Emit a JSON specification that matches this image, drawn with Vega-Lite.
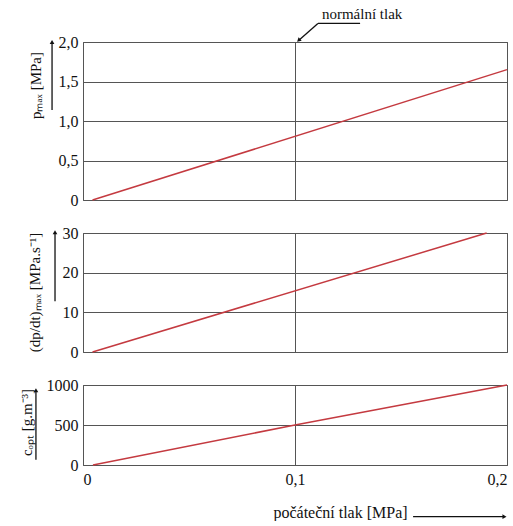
{
  "$schema": "https://vega.github.io/schema/vega-lite/v6.json",
  "padding": {"left": 18, "top": 6, "right": 0, "bottom": 0},
  "background": "white",
  "spacing": 33,
  "bounds": "flush",
  "config": {
    "font": "Liberation Serif",
    "view": {"stroke": "#555555", "strokeWidth": 1},
    "text": {"font": "Liberation Serif"},
    "axis": {
      "gridColor": "#555555", "gridOpacity": 1, "gridWidth": 1,
      "domain": false, "ticks": false, "labelOverlap": false,
      "labelFont": "Liberation Serif", "labelFontSize": 16, "labelColor": "#111111",
      "titleFont": "Liberation Serif", "titleFontSize": 15, "titleFontWeight": "normal", "titleColor": "#111111"
    }
  },
  "vconcat": [
    {
      "width": 424, "height": 158,
      "encoding": {
        "x": {"field": "p", "type": "quantitative", "scale": {"domain": [0, 0.2]},
              "axis": {"values": [0, 0.1, 0.2], "labels": false, "grid": true, "title": null}},
        "y": {"field": "v", "type": "quantitative", "scale": {"domain": [0, 2]},
              "axis": {"values": [0, 0.5, 1, 1.5, 2], "grid": true, "labelPadding": 5,
                       "labelExpr": "datum.value == 0 ? '0' : replace(format(datum.value, '.1f'), '.', ',')",
                       "title": "pₘₐₓ [MPa]", "titleX": -48, "titleY": 43, "titleBaseline": "middle", "titleAlign": "center"}}
      },
      "layer": [
        {
          "data": {"values": [{"p": 0.0045, "v": 0}, {"p": 0.2, "v": 1.65}]},
          "mark": {"type": "line", "color": "#c43a40", "strokeWidth": 1.5}
        },
        {
          "data": {"values": [{"p": -0.0146, "v": 1.14, "v2": 1.99}]},
          "mark": {"type": "rule", "color": "#111111", "strokeWidth": 1.3},
          "encoding": {"y2": {"field": "v2"}}
        },
        {
          "data": {"values": [{"p": -0.0146, "v": 2.0}]},
          "mark": {"type": "point", "shape": "triangle-up", "filled": true, "color": "#111111", "size": 22, "opacity": 1}
        },
        {
          "data": {"values": [{"p": 0.1127, "v": 2.285, "label": "normální tlak"}]},
          "mark": {"type": "text", "align": "left", "baseline": "alphabetic", "fontSize": 15, "color": "#111111"},
          "encoding": {"text": {"field": "label"}}
        },
        {
          "data": {"values": [{"p": 0.1108, "p2": 0.1307, "v": 2.235}]},
          "mark": {"type": "rule", "color": "#111111", "strokeWidth": 1.3},
          "encoding": {"x2": {"field": "p2"}}
        },
        {
          "data": {"values": [{"p": 0.1108, "p2": 0.1017, "v": 2.235, "v2": 2.02}]},
          "mark": {"type": "rule", "color": "#111111", "strokeWidth": 1.3},
          "encoding": {"x2": {"field": "p2"}, "y2": {"field": "v2"}}
        },
        {
          "data": {"values": [{"p": 0.1017, "v": 2.02}]},
          "mark": {"type": "point", "shape": "triangle-up", "filled": true, "color": "#111111", "size": 22, "opacity": 1, "angle": 229}
        }
      ]
    },
    {
      "width": 424, "height": 119,
      "encoding": {
        "x": {"field": "p", "type": "quantitative", "scale": {"domain": [0, 0.2]},
              "axis": {"values": [0, 0.1, 0.2], "labels": false, "grid": true, "title": null}},
        "y": {"field": "v", "type": "quantitative", "scale": {"domain": [0, 30]},
              "axis": {"values": [0, 10, 20, 30], "grid": true, "labelPadding": 5, "format": "d",
                       "title": "(dp/dt)ₘₐₓ [MPa.s⁻¹]", "titleX": -49, "titleY": 59, "titleBaseline": "middle", "titleAlign": "center"}}
      },
      "layer": [
        {
          "data": {"values": [{"p": 0.0045, "v": 0}, {"p": 0.1904, "v": 30}]},
          "mark": {"type": "line", "color": "#c43a40", "strokeWidth": 1.5}
        },
        {
          "data": {"values": [{"p": -0.0132, "v": 12.8, "v2": 30.0}]},
          "mark": {"type": "rule", "color": "#111111", "strokeWidth": 1.3},
          "encoding": {"y2": {"field": "v2"}}
        },
        {
          "data": {"values": [{"p": -0.0132, "v": 30.2}]},
          "mark": {"type": "point", "shape": "triangle-up", "filled": true, "color": "#111111", "size": 22, "opacity": 1}
        }
      ]
    },
    {
      "width": 424, "height": 80,
      "encoding": {
        "x": {"field": "p", "type": "quantitative", "scale": {"domain": [0, 0.2]},
              "axis": {"values": [0, 0.1, 0.2], "labels": true, "grid": true, "labelPadding": 6,
                       "labelExpr": "datum.value == 0 ? '0' : replace(format(datum.value, '.1f'), '.', ',')",
                       "title": "počáteční tlak [MPa]", "titleFontSize": 16, "titleX": 257, "titleY": 47, "titleBaseline": "middle", "titleAlign": "center"}},
        "y": {"field": "v", "type": "quantitative", "scale": {"domain": [0, 1000]},
              "axis": {"values": [0, 500, 1000], "grid": true, "labelPadding": 5, "format": "d",
                       "title": "cₒₚₜ [g.m⁻³]", "titleX": -57, "titleY": 37, "titleBaseline": "middle", "titleAlign": "center"}}
      },
      "layer": [
        {
          "data": {"values": [{"p": 0.0047, "v": 0}, {"p": 0.1, "v": 500}, {"p": 0.2, "v": 1000}]},
          "mark": {"type": "line", "color": "#c43a40", "strokeWidth": 1.5}
        },
        {
          "data": {"values": [{"p": -0.0222, "v": 66, "v2": 930}]},
          "mark": {"type": "rule", "color": "#111111", "strokeWidth": 1.3},
          "encoding": {"y2": {"field": "v2"}}
        },
        {
          "data": {"values": [{"p": -0.0222, "v": 935}]},
          "mark": {"type": "point", "shape": "triangle-up", "filled": true, "color": "#111111", "size": 22, "opacity": 1}
        },
        {
          "data": {"values": [{"p": 0.1557, "p2": 0.1985, "v": -646}]},
          "mark": {"type": "rule", "color": "#111111", "strokeWidth": 1.3},
          "encoding": {"x2": {"field": "p2"}}
        },
        {
          "data": {"values": [{"p": 0.1988, "v": -646}]},
          "mark": {"type": "point", "shape": "triangle-right", "filled": true, "color": "#111111", "size": 22, "opacity": 1}
        }
      ]
    }
  ]
}
